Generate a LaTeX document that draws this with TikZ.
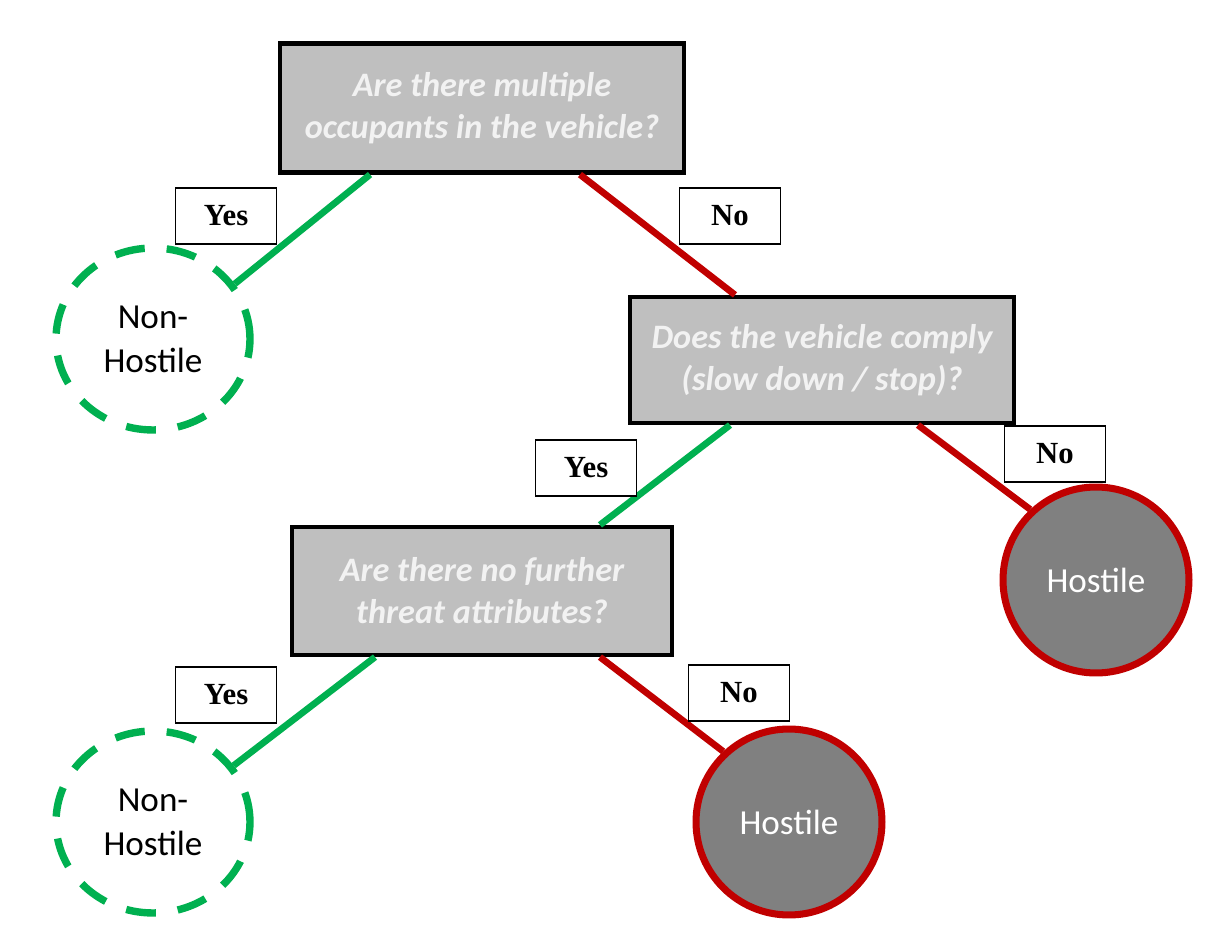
\documentclass[tikz,border=0pt]{standalone}
\usepackage{fontspec}
\setmainfont{Carlito}
\newfontfamily\yesnofont{Liberation Serif}
\usetikzlibrary{shapes.geometric}
\definecolor{qgray}{HTML}{BFBFBF}
\definecolor{hgray}{HTML}{808080}
\definecolor{yesgreen}{HTML}{00B050}
\definecolor{nored}{HTML}{C00000}
\begin{document}
\begin{tikzpicture}[x=0.02cm,y=-0.02cm,
    question/.style={draw=black,line width=2.4pt,fill=qgray,text=white!95!black,align=center,
      inner sep=0pt,font=\fontsize{19.5}{24}\selectfont\bfseries\itshape},
    answer/.style={draw=black,line width=0.6pt,fill=white,inner sep=0pt,
      minimum width=2.02cm,minimum height=1.12cm,
      font=\yesnofont\fontsize{17.5}{20}\selectfont\bfseries},
    safe/.style={ellipse,draw=yesgreen,line width=4.2pt,dash pattern=on 0.6cm off 0.44cm,
      minimum width=3.88cm,minimum height=3.64cm,inner sep=0pt,align=center,
      font=\fontsize{20}{25}\selectfont},
    threat/.style={circle,draw=nored,line width=4pt,fill=hgray,text=white,
      minimum size=3.72cm,inner sep=0pt,font=\fontsize{20}{24}\selectfont},
    yesline/.style={draw=yesgreen,line width=3.8pt},
    noline/.style={draw=nored,line width=3.8pt}]
  \useasboundingbox (0,0) rectangle (1218,935);
  \draw
    (482,108) node[question,minimum width=8.08cm,minimum height=2.58cm] (q1)
      {Are there multiple\\occupants in the vehicle?}
    (822,360) node[question,minimum width=7.68cm,minimum height=2.52cm] (q2)
      {Does the vehicle comply\\(slow down / stop)?}
    (482,591) node[question,minimum width=7.6cm,minimum height=2.56cm] (q3)
      {Are there no further\\threat attributes?}
    (153,339) node[safe] (nh1) {Non-\\Hostile}
    (153,822) node[safe] (nh2) {Non-\\Hostile}
    (1096,580) node[threat] (h1) {Hostile}
    (789,822) node[threat] (h2) {Hostile};
  \begin{scope}[-]
    \draw[yesline] ([xshift=-2.24cm]q1.south) to (nh1.34);
    \draw[noline] ([xshift=1.96cm]q1.south) to ([xshift=-1.74cm]q2.north);
    \draw[yesline] ([xshift=-1.84cm]q2.south) to ([xshift=2.36cm]q3.north);
    \draw[noline] ([xshift=1.92cm]q2.south) to (h1.133);
    \draw[yesline] ([xshift=-2.14cm]q3.south) to (nh2.35);
    \draw[noline] ([xshift=2.36cm]q3.south) to (h2.133);
  \end{scope}
  \draw
    (226,216) node[answer] (y1) {Yes}
    (730,216) node[answer] (n1) {No}
    (586,468) node[answer] (y2) {Yes}
    (1055,454) node[answer] (n2) {No}
    (226,695) node[answer] (y3) {Yes}
    (739,693) node[answer] (n3) {No};
\end{tikzpicture}
\end{document}
